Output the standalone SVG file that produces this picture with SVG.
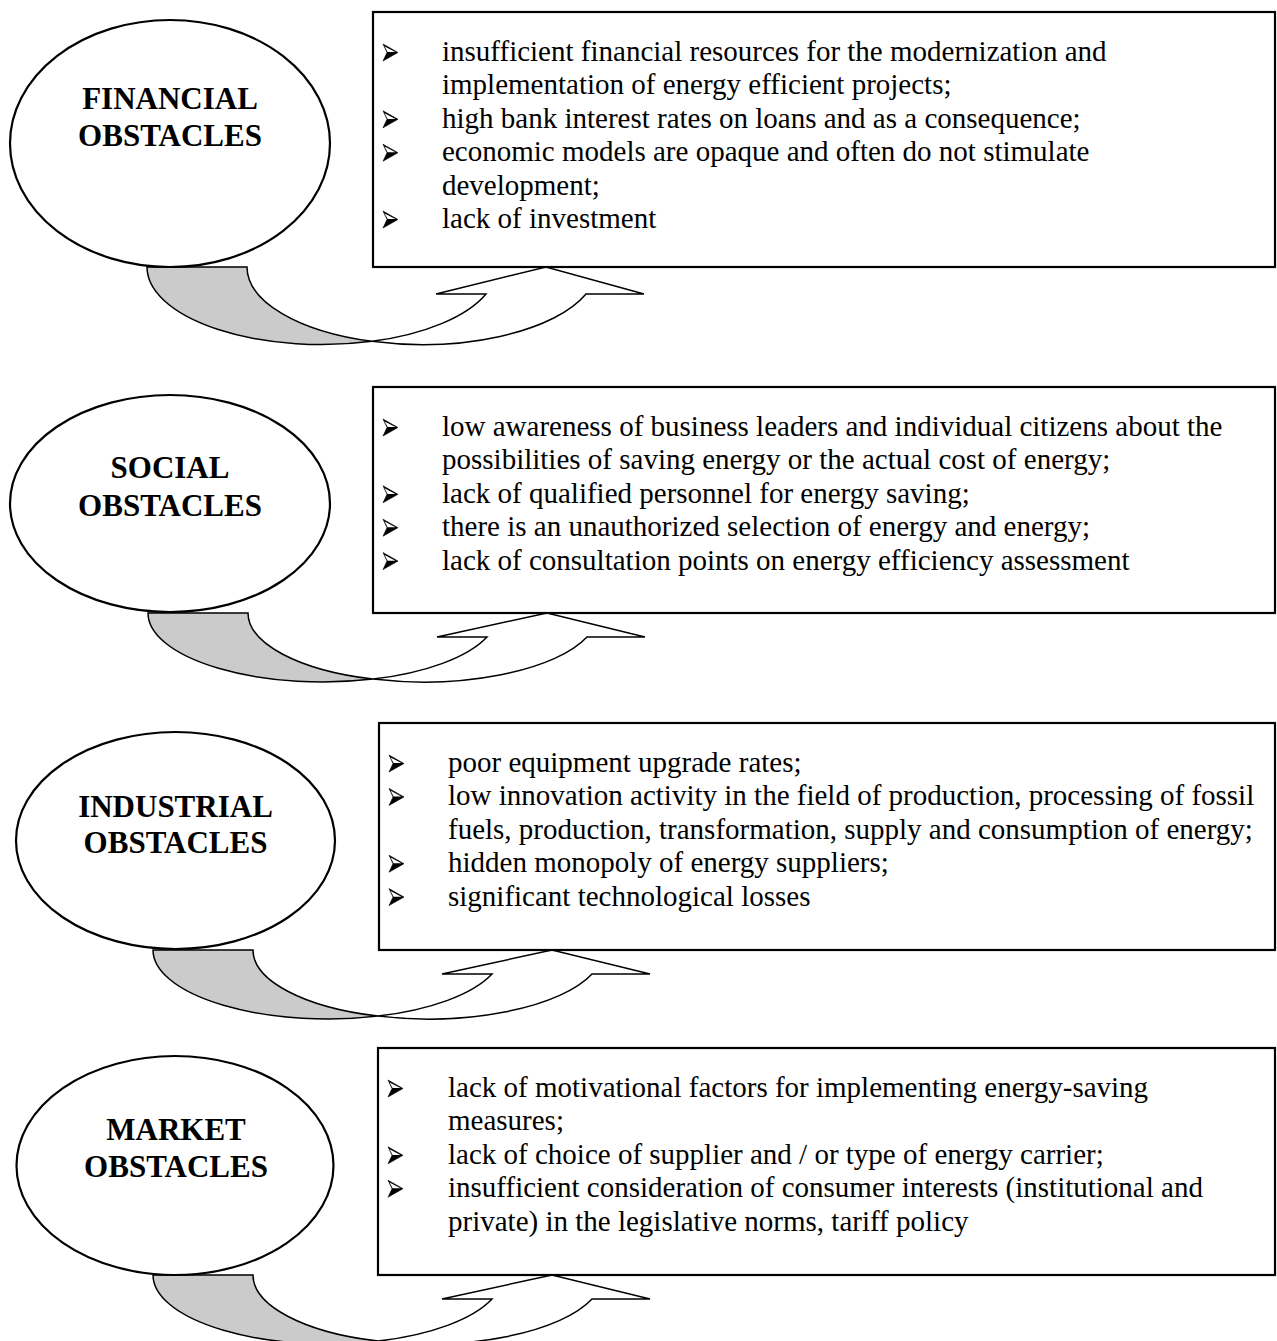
<svg xmlns="http://www.w3.org/2000/svg" xmlns:xlink="http://www.w3.org/1999/xlink" width="1277" height="1341" viewBox="0 0 1277 1341">
<style>
.ell{fill:#fff;stroke:#000;stroke-width:2.2}
.box{fill:#fff;stroke:#000;stroke-width:2.2}
.title{font-family:"Liberation Serif","Times New Roman",serif;font-weight:bold;font-size:31px;text-anchor:middle;fill:#000}
.t{font-family:"Liberation Serif","Times New Roman",serif;font-size:29px;fill:#000}
.back{fill:#cbcbcb;stroke:#000;stroke-width:1.5;vector-effect:non-scaling-stroke}
.front{fill:#fff;stroke:#000;stroke-width:1.5;vector-effect:non-scaling-stroke;stroke-linejoin:miter}
.bul{fill:#000;stroke:#000;stroke-width:0.6;stroke-linejoin:miter}
.bulhi{fill:#fff}
</style>
<defs>
<g id="curvedArrow">
<path class="back" d="M0,0 L100,0 A175,69 0 0 0 225,66.1 A175,69 0 0 1 0,0 Z"/>
<path class="front" d="M225,66.1 A175,69 0 0 0 339,24 L289,24 L399,0 L497,24 L439,24 A175,69 0 0 1 225,66.1 Z"/>
</g>
<g id="bullet">
<path class="bul" d="M0,-17 L15,-8.5 L0,0 L4,-8.5 Z"/>
<path class="bulhi" d="M1.6,-14.6 L12.4,-8.9 L4.6,-8.9 Z"/>
</g>
</defs>
<rect width="1277" height="1341" fill="#fff"/>
<g id="connectors">
<use xlink:href="#curvedArrow" href="#curvedArrow" transform="translate(147,267) scale(1,1.125)"/>
<use xlink:href="#curvedArrow" href="#curvedArrow" transform="translate(148,613)"/>
<use xlink:href="#curvedArrow" href="#curvedArrow" transform="translate(153,950)"/>
<use xlink:href="#curvedArrow" href="#curvedArrow" transform="translate(153,1275)"/>
</g>
<g id="node-financial">
<ellipse class="ell" cx="170" cy="143.5" rx="160" ry="123.5"/>
<text class="title" x="170" y="109">FINANCIAL</text>
<text class="title" x="170" y="146">OBSTACLES</text>
</g>
<g id="box-financial">
<rect class="box" x="373" y="12" width="902" height="255"/>
<use xlink:href="#bullet" href="#bullet" transform="translate(383,61)"/>
<text class="t" x="442" y="61">insufficient financial resources for the modernization and</text>
<text class="t" x="442" y="94.4">implementation of energy efficient projects;</text>
<use xlink:href="#bullet" href="#bullet" transform="translate(383,127.8)"/>
<text class="t" x="442" y="127.8">high bank interest rates on loans and as a consequence;</text>
<use xlink:href="#bullet" href="#bullet" transform="translate(383,161.2)"/>
<text class="t" x="442" y="161.2">economic models are opaque and often do not stimulate</text>
<text class="t" x="442" y="194.6">development;</text>
<use xlink:href="#bullet" href="#bullet" transform="translate(383,228)"/>
<text class="t" x="442" y="228">lack of investment</text>
</g>
<g id="node-social">
<ellipse class="ell" cx="170" cy="503.5" rx="160" ry="108.5"/>
<text class="title" x="170" y="478">SOCIAL</text>
<text class="title" x="170" y="516">OBSTACLES</text>
</g>
<g id="box-social">
<rect class="box" x="373" y="387" width="902" height="226"/>
<use xlink:href="#bullet" href="#bullet" transform="translate(383,436)"/>
<text class="t" x="442" y="436">low awareness of business leaders and individual citizens about the</text>
<text class="t" x="442" y="469.4">possibilities of saving energy or the actual cost of energy;</text>
<use xlink:href="#bullet" href="#bullet" transform="translate(383,502.8)"/>
<text class="t" x="442" y="502.8">lack of qualified personnel for energy saving;</text>
<use xlink:href="#bullet" href="#bullet" transform="translate(383,536.2)"/>
<text class="t" x="442" y="536.2">there is an unauthorized selection of energy and energy;</text>
<use xlink:href="#bullet" href="#bullet" transform="translate(383,569.6)"/>
<text class="t" x="442" y="569.6">lack of consultation points on energy efficiency assessment</text>
</g>
<g id="node-industrial">
<ellipse class="ell" cx="175.5" cy="840.5" rx="159.5" ry="108.5"/>
<text class="title" x="175.5" y="817">INDUSTRIAL</text>
<text class="title" x="175.5" y="853">OBSTACLES</text>
</g>
<g id="box-industrial">
<rect class="box" x="379" y="723" width="896" height="227"/>
<use xlink:href="#bullet" href="#bullet" transform="translate(389,772)"/>
<text class="t" x="448" y="772">poor equipment upgrade rates;</text>
<use xlink:href="#bullet" href="#bullet" transform="translate(389,805.4)"/>
<text class="t" x="448" y="805.4">low innovation activity in the field of production, processing of fossil</text>
<text class="t" x="448" y="838.8">fuels, production, transformation, supply and consumption of energy;</text>
<use xlink:href="#bullet" href="#bullet" transform="translate(389,872.2)"/>
<text class="t" x="448" y="872.2">hidden monopoly of energy suppliers;</text>
<use xlink:href="#bullet" href="#bullet" transform="translate(389,905.6)"/>
<text class="t" x="448" y="905.6">significant technological losses</text>
</g>
<g id="node-market">
<ellipse class="ell" cx="175" cy="1165.5" rx="158.5" ry="109.5"/>
<text class="title" x="176" y="1140">MARKET</text>
<text class="title" x="176" y="1177">OBSTACLES</text>
</g>
<g id="box-market">
<rect class="box" x="378" y="1048" width="897" height="227"/>
<use xlink:href="#bullet" href="#bullet" transform="translate(388,1097)"/>
<text class="t" x="448" y="1097">lack of motivational factors for implementing energy-saving</text>
<text class="t" x="448" y="1130.4">measures;</text>
<use xlink:href="#bullet" href="#bullet" transform="translate(388,1163.8)"/>
<text class="t" x="448" y="1163.8">lack of choice of supplier and / or type of energy carrier;</text>
<use xlink:href="#bullet" href="#bullet" transform="translate(388,1197.2)"/>
<text class="t" x="448" y="1197.2">insufficient consideration of consumer interests (institutional and</text>
<text class="t" x="448" y="1230.6">private) in the legislative norms, tariff policy</text>
</g>
</svg>
